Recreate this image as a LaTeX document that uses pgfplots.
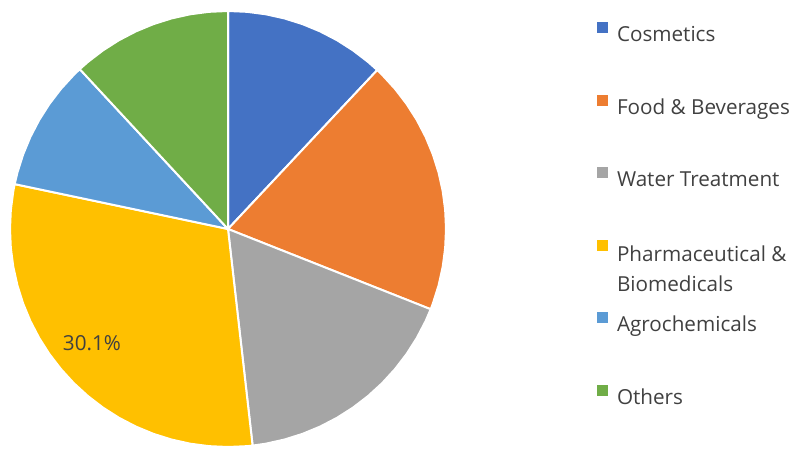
\documentclass[border=0pt]{standalone}
\usepackage{fontspec}
\setmainfont{Open Sans}
\usepackage{pgfplots}
\pgfplotsset{compat=1.18}

\definecolor{cCos}{HTML}{4472C4}
\definecolor{cFood}{HTML}{ED7D31}
\definecolor{cWater}{HTML}{A5A5A5}
\definecolor{cPharma}{HTML}{FFC000}
\definecolor{cAgro}{HTML}{5B9BD5}
\definecolor{cOther}{HTML}{70AD47}
\definecolor{txt}{HTML}{404040}

% shares (%): Cosmetics 12.0, Food 19.0, Water 17.2, Pharma 30.1, Agro 9.8, Others 11.9
% wedges given as (angle, radius), clockwise from the top

\begin{document}
\begin{tikzpicture}
\path[use as bounding box] (0,0) rectangle (600pt,347.25pt);
\begin{axis}[
	at={(171pt,175.5pt)}, anchor=center,
	x=163.5pt, y=163.5pt,
	xmin=-1.03, xmax=1.03, ymin=-1.03, ymax=1.03,
	hide axis, clip=false,
	every axis plot/.append style={draw=white, line width=1.5pt, line join=round, mark=none},
	legend cell align=left,
	legend image code/.code={\fill[#1,draw=none] (0pt,1.4pt) rectangle (8.25pt,9.65pt);},
	legend style={draw=none, fill=none, inner sep=0pt, outer sep=0pt,
		at={(1.3217,0.9610)}, anchor=north west,
		font=\fontsize{15.5}{22.5}\selectfont, text=txt,
		nodes={inner sep=0pt, outer sep=0pt},
		column sep=6.75pt,
		row sep={54.4pt,between origins}},
]
\addplot[fill=cCos, data cs=polar] coordinates {
	(0,0) (90,1) (85,1) (80,1) (75,1) (70,1) (65,1) (60,1) (55,1) (50,1) (46.8,1)
} -- cycle;
\addlegendentry{Cosmetics}
\addplot[fill=cFood, data cs=polar] coordinates {
	(0,0) (46.8,1) (45,1) (40,1) (35,1) (30,1) (25,1) (20,1) (15,1) (10,1) (5,1) (0,1)
	(-5,1) (-10,1) (-15,1) (-20,1) (-21.6,1)
} -- cycle;
\addlegendentry{Food \& Beverages}
\addplot[fill=cWater, data cs=polar] coordinates {
	(0,0) (-21.6,1) (-25,1) (-30,1) (-35,1) (-40,1) (-45,1) (-50,1) (-55,1) (-60,1)
	(-65,1) (-70,1) (-75,1) (-80,1) (-83.52,1)
} -- cycle;
\addlegendentry{Water Treatment}
\addplot[fill=cPharma, data cs=polar] coordinates {
	(0,0) (-83.52,1) (-85,1) (-90,1) (-95,1) (-100,1) (-105,1) (-110,1) (-115,1) (-120,1)
	(-125,1) (-130,1) (-135,1) (-140,1) (-145,1) (-150,1) (-155,1) (-160,1) (-165,1)
	(-170,1) (-175,1) (-180,1) (-185,1) (-190,1) (-191.88,1)
} -- cycle;
\addlegendentry{\begin{tabular}[t]{@{}l@{}}Pharmaceutical \&\\Biomedicals\end{tabular}}
\addplot[fill=cAgro, data cs=polar] coordinates {
	(0,0) (-191.88,1) (-195,1) (-200,1) (-205,1) (-210,1) (-215,1) (-220,1) (-225,1) (-227.16,1)
} -- cycle;
\addlegendentry{Agrochemicals}
\addplot[fill=cOther, data cs=polar] coordinates {
	(0,0) (-227.16,1) (-230,1) (-235,1) (-240,1) (-245,1) (-250,1) (-255,1) (-260,1)
	(-265,1) (-270,1)
} -- cycle;
\addlegendentry{Others}
\node[text=txt, font=\fontsize{15.5}{18}\selectfont] at (axis cs:-0.624,-0.523) {30.1\%};
\end{axis}
\end{tikzpicture}
\end{document}
